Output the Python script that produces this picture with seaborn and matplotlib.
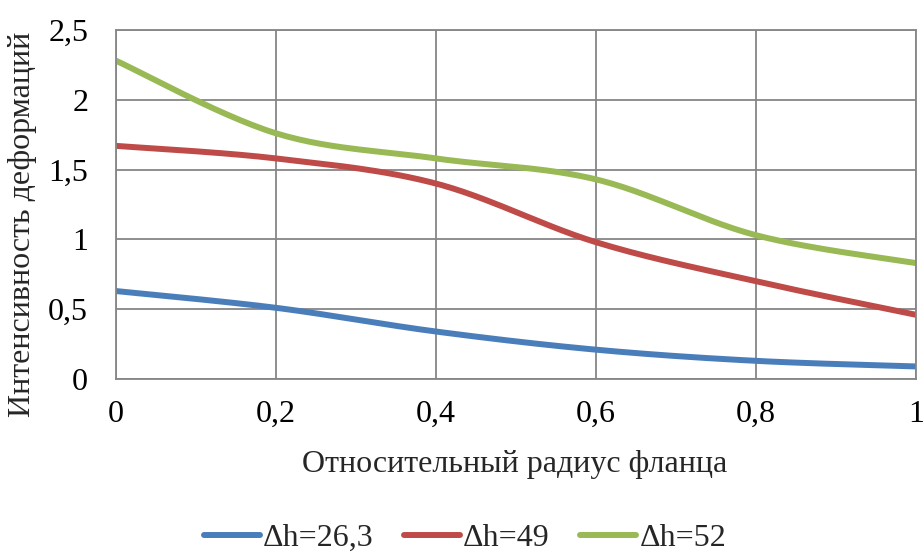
import numpy as np
import pandas as pd
import matplotlib
matplotlib.use("Agg")
import matplotlib.pyplot as plt
import seaborn as sns

# данные
radius = [0, 0.2, 0.4, 0.6, 0.8, 1.0]
dh_26_3 = [0.63, 0.51, 0.34, 0.21, 0.13, 0.09]
dh_49 = [1.67, 1.58, 1.40, 0.98, 0.70, 0.46]
dh_52 = [2.28, 1.76, 1.58, 1.43, 1.03, 0.83]
series_names = ["Δh=26,3", "Δh=49", "Δh=52"]
colors = ["#4A7EBB", "#BE4B48", "#98B954"]

x_ticks = [0, 0.2, 0.4, 0.6, 0.8, 1.0]
x_tick_labels = ["0", "0,2", "0,4", "0,6", "0,8", "1"]
y_ticks = [0, 0.5, 1, 1.5, 2, 2.5]
y_tick_labels = ["0", "0,5", "1", "1,5", "2", "2,5"]


def smooth(x, y, n=30):
    # сглаживание как в Excel (Catmull-Rom), кривая проходит через точки
    x = np.asarray(x, float)
    y = np.asarray(y, float)
    px = np.concatenate([[x[0]], x, [x[-1]]])
    py = np.concatenate([[y[0]], y, [y[-1]]])
    xs, ys = [], []
    t = np.linspace(0, 1, n)[:, None]
    for i in range(1, len(px) - 2):
        p0, p1, p2, p3 = (np.array([px[j], py[j]]) for j in range(i - 1, i + 3))
        c1 = p1 + (p2 - p0) / 6
        c2 = p2 - (p3 - p1) / 6
        pts = (1 - t) ** 3 * p1 + 3 * (1 - t) ** 2 * t * c1 + 3 * (1 - t) * t ** 2 * c2 + t ** 3 * p2
        xs.extend(pts[:, 0])
        ys.extend(pts[:, 1])
    return xs, ys


frames = []
for name, vals in zip(series_names, [dh_26_3, dh_49, dh_52]):
    sx, sy = smooth(radius, vals)
    frames.append(pd.DataFrame({"x": sx, "y": sy, "series": name}))
df = pd.concat(frames, ignore_index=True)

sns.set_style("white")
plt.rcParams["font.family"] = ["Liberation Serif", "DejaVu Serif"]

W, H = 923, 553
fig = plt.figure(figsize=(W / 100, H / 100), dpi=100)
ax = fig.add_axes([116 / W, 1 - 379 / H, 800 / W, 349 / H])

sns.lineplot(data=df, x="x", y="y", hue="series", palette=colors, sort=False,
             estimator=None, units="series", linewidth=4.3, ax=ax, legend=False)

ax.set_xlim(0, 1)
ax.set_ylim(0, 2.5)
ax.set_xticks(x_ticks)
ax.set_xticklabels(x_tick_labels)
ax.set_yticks(y_ticks)
ax.set_yticklabels(y_tick_labels)
ax.tick_params(axis="both", length=0, labelsize=23, colors="black")
ax.tick_params(axis="y", pad=20)
ax.tick_params(axis="x", pad=15)
ax.grid(True, color="#868686", linewidth=1.3)
ax.set_axisbelow(True)
for s in ax.spines.values():
    s.set_color("#868686")
    s.set_linewidth(1.3)
ax.set_xlabel("")
ax.set_ylabel("")

fig.text(515 / W, 1 - 472 / H, "Относительный радиус фланца", fontsize=23,
         ha="center", va="baseline")
fig.text(23 / W, 1 - 224 / H, "Интенсивность деформаций", fontsize=23,
         ha="center", va="center", rotation=90)

handles = [plt.Line2D([], [], color=c, linewidth=4.3, solid_capstyle="round") for c in colors]
fig.legend(handles, series_names, loc="center", bbox_to_anchor=(465 / W, 1 - 538 / H), ncol=3,
           frameon=False, fontsize=23, handlelength=1.75, columnspacing=0.95, handletextpad=0.1,
           borderpad=0)

fig.savefig("out.png", dpi=100)
